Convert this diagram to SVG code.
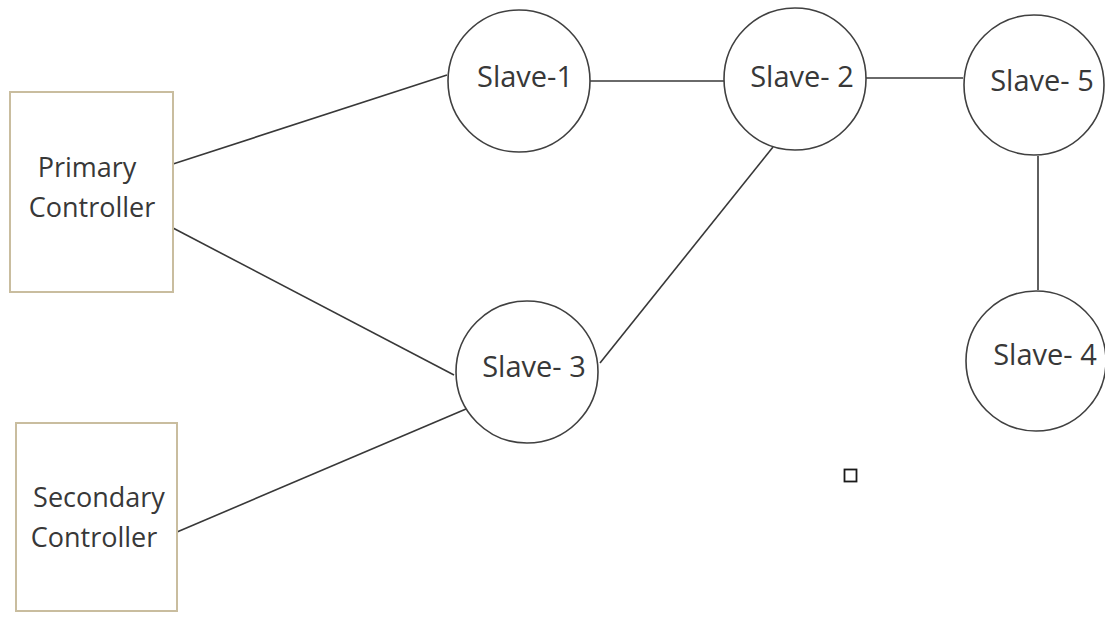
<svg xmlns="http://www.w3.org/2000/svg" width="1105" height="619" viewBox="0 0 1105 619">
<style>
.box{fill:#ffffff;stroke:#c9bd9f;stroke-width:2}
.node{fill:#ffffff;stroke:#404040;stroke-width:1.6}
.lbl{font-family:"Open Sans","Liberation Sans",sans-serif;fill:#383838;text-anchor:middle}
.ctl{font-size:27px}
.slv{font-size:29px}
.edge{stroke:#383838;stroke-width:1.6;fill:none}
</style>
<rect width="1105" height="619" fill="#ffffff"/>
<g id="connectors">
<line class="edge" x1="173" y1="164" x2="447" y2="75"/>
<line class="edge" x1="173" y1="228" x2="454" y2="375"/>
<line class="edge" x1="177" y1="532" x2="466" y2="409"/>
<line class="edge" x1="600" y1="363" x2="773" y2="147"/>
<line class="edge" x1="590" y1="81" x2="724" y2="81"/>
<line class="edge" x1="866" y1="78" x2="963" y2="78"/>
<line class="edge" x1="1038" y1="156" x2="1038" y2="290"/>
</g>
<g id="primary">
<rect class="box" x="10" y="92" width="163" height="200"/>
<text class="lbl ctl" x="87" y="177">Primary</text>
<text class="lbl ctl" x="92" y="217">Controller</text>
</g>
<g id="secondary">
<rect class="box" x="16" y="423" width="161" height="188"/>
<text class="lbl ctl" x="99" y="507">Secondary</text>
<text class="lbl ctl" x="94" y="547">Controller</text>
</g>
<g id="slave1">
<circle class="node" cx="519" cy="81" r="71"/>
<text class="lbl slv" x="525" y="87">Slave-1</text>
</g>
<g id="slave2">
<circle class="node" cx="795" cy="79" r="71"/>
<text class="lbl slv" x="802" y="87">Slave- 2</text>
</g>
<g id="slave5">
<circle class="node" cx="1034" cy="85" r="70"/>
<text class="lbl slv" x="1042" y="91">Slave- 5</text>
</g>
<g id="slave4">
<circle class="node" cx="1036" cy="361" r="70"/>
<text class="lbl slv" x="1045" y="365">Slave- 4</text>
</g>
<g id="slave3">
<circle class="node" cx="527" cy="372" r="71"/>
<text class="lbl slv" x="534" y="377">Slave- 3</text>
</g>
<rect x="844.5" y="469.5" width="12" height="12" fill="none" stroke="#1a1a1a" stroke-width="1.8"/>
</svg>
